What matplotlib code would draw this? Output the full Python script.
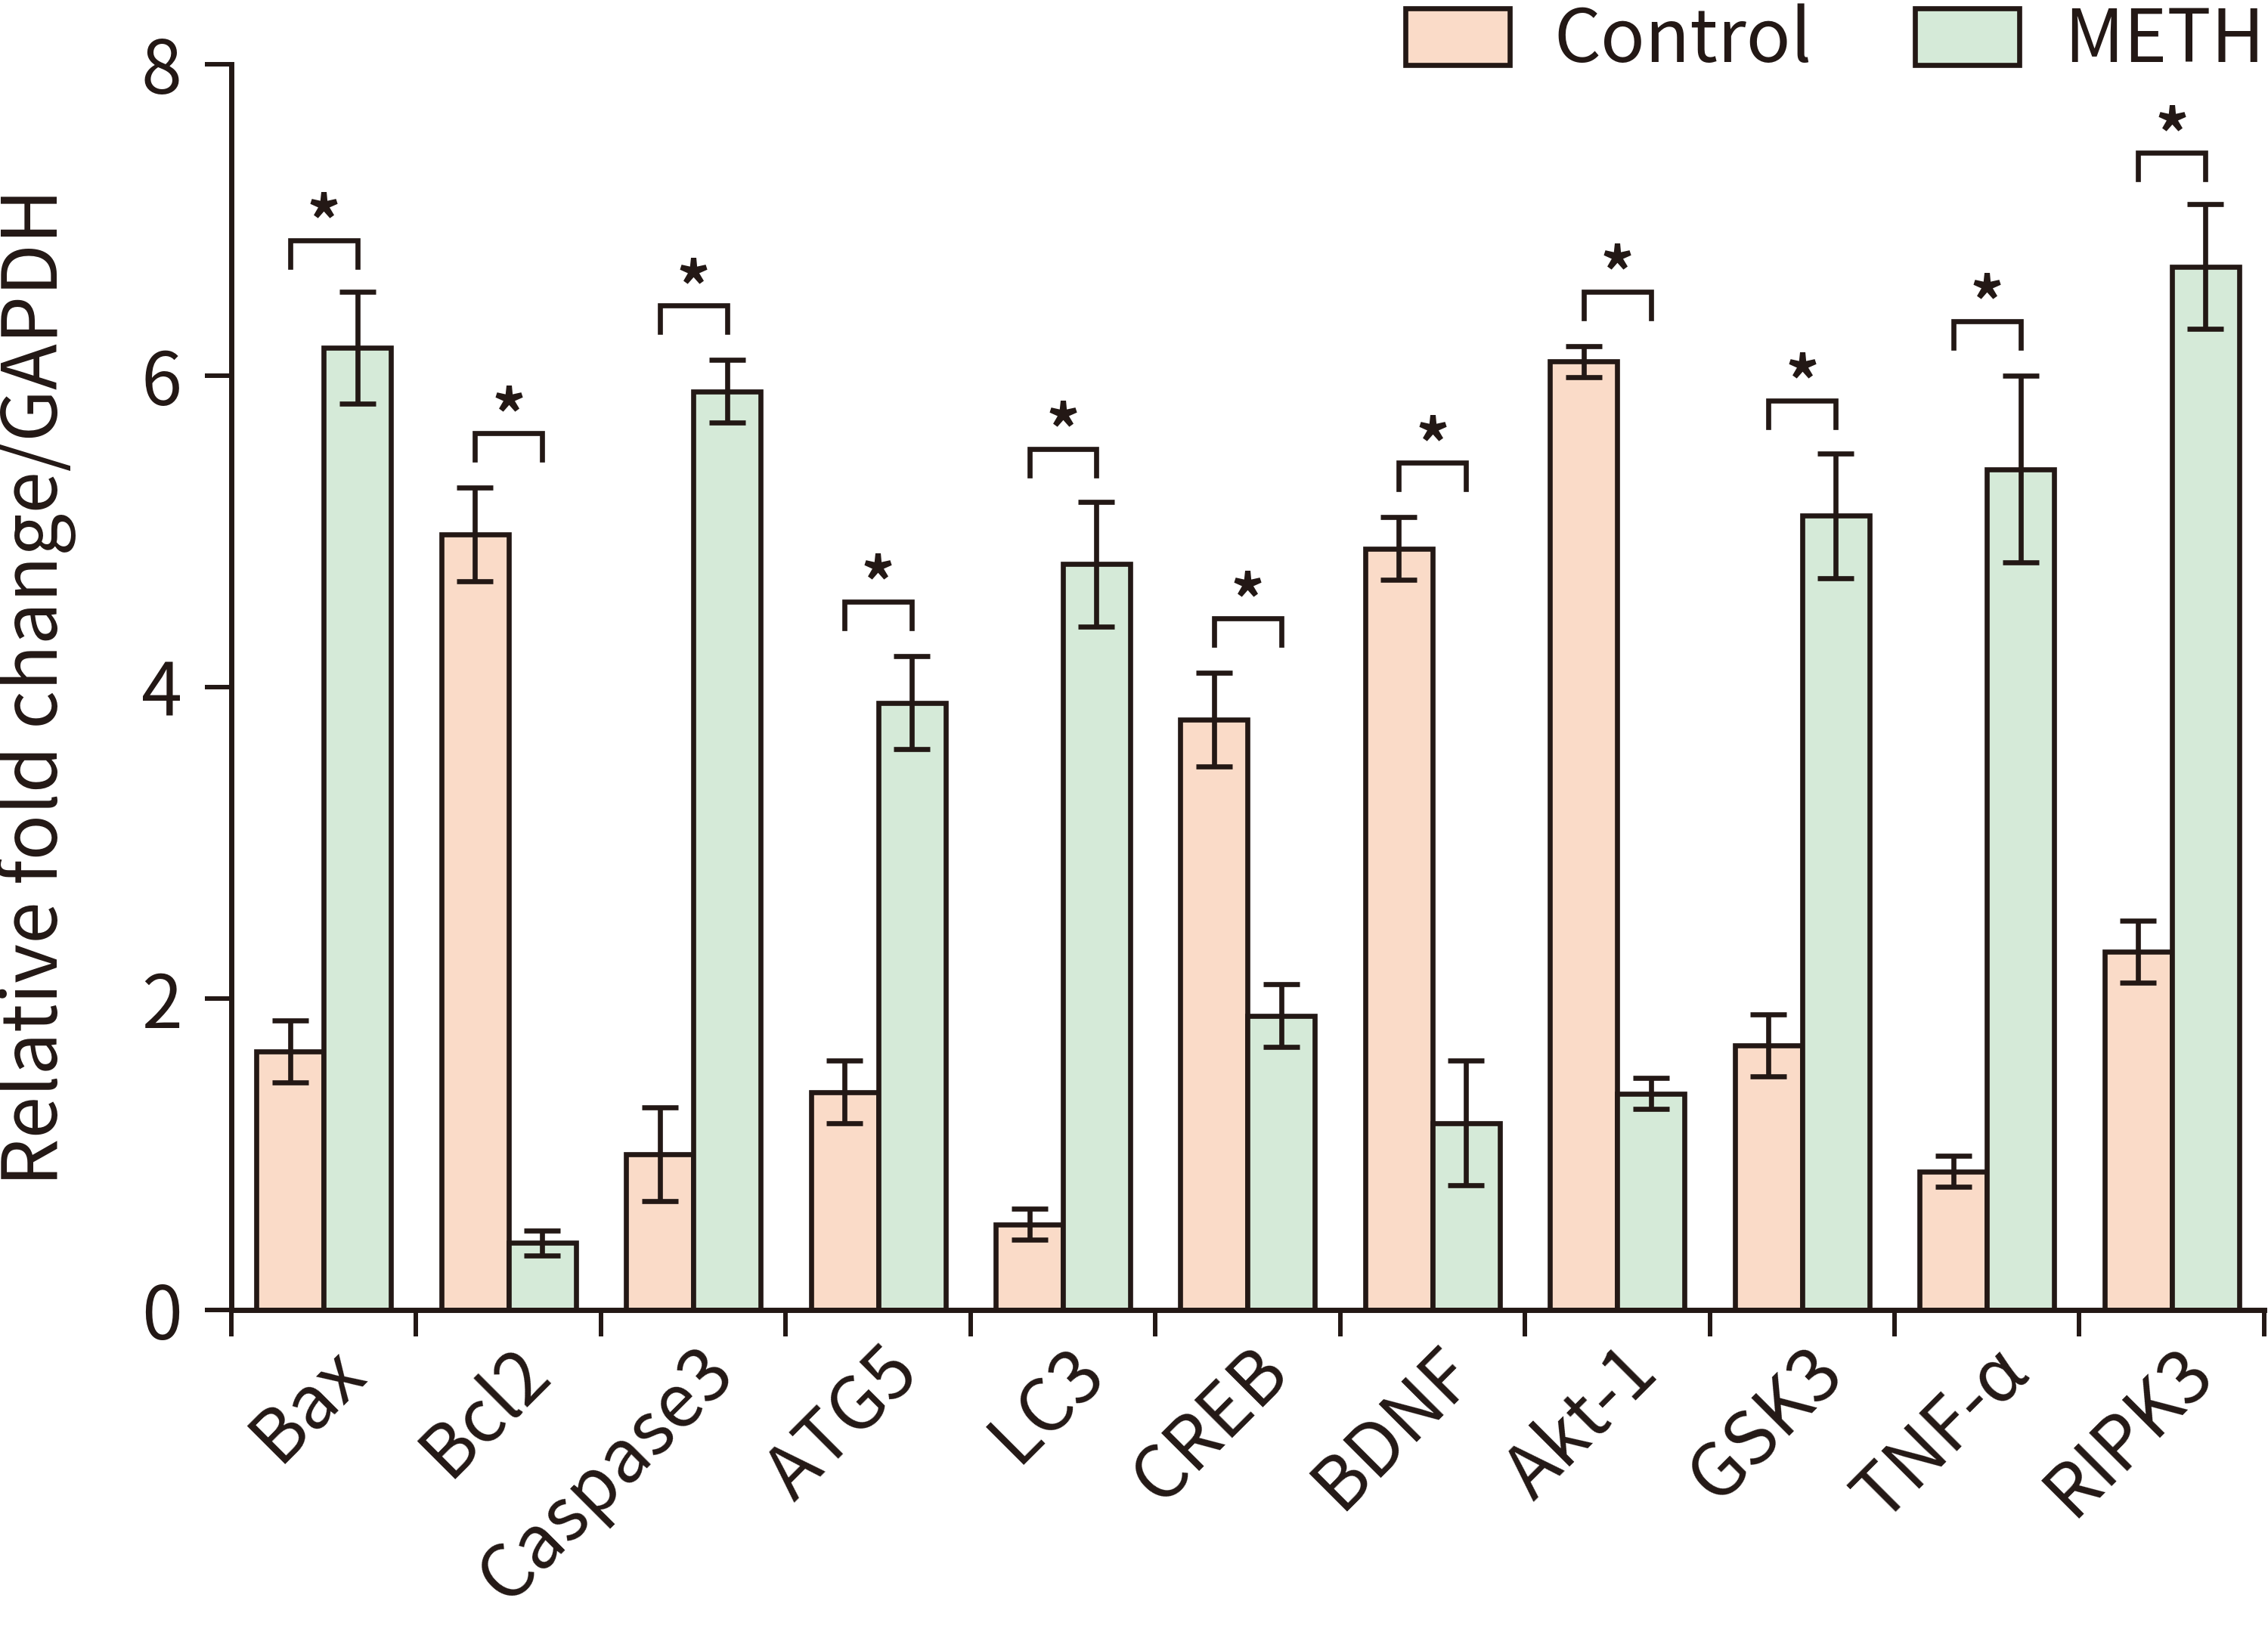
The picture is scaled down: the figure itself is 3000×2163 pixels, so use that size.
import numpy as np
import matplotlib.pyplot as plt
import matplotlib.transforms as mtransforms
from matplotlib.patches import Patch

plt.rcParams['font.family'] = ['Noto Sans CJK JP', 'DejaVu Sans']

# data
genes = ['Bax', 'Bcl2', 'Caspase3', 'ATG5', 'LC3', 'CREB', 'BDNF', 'Akt-1', 'GSK3', 'TNF-α', 'RIPK3']
control = [1.66, 4.98, 1.00, 1.40, 0.55, 3.79, 4.89, 6.09, 1.70, 0.89, 2.30]
control_err = [0.20, 0.30, 0.30, 0.20, 0.10, 0.30, 0.20, 0.10, 0.20, 0.10, 0.20]
meth = [6.18, 0.43, 5.90, 3.90, 4.79, 1.89, 1.20, 1.39, 5.10, 5.40, 6.70]
meth_err = [0.36, 0.08, 0.20, 0.30, 0.40, 0.20, 0.40, 0.10, 0.40, 0.60, 0.40]
bracket_y = [6.87, 5.63, 6.45, 4.55, 5.53, 4.44, 5.44, 6.54, 5.84, 6.35, 7.43]

c_ctrl = '#FADBC8'
c_meth = '#D5EAD8'
ink = '#231815'

fig = plt.figure(figsize=(30, 21.63), dpi=100)
ax = fig.add_axes([0.102, 0.1988, 0.8963, 0.7619])

n = len(genes)
centers = np.arange(n) + 0.5
w = 0.364
lw = 4.8

ax.bar(centers - w / 2, control, w, color=c_ctrl, edgecolor=ink, linewidth=lw, zorder=2)
ax.bar(centers + w / 2, meth, w, color=c_meth, edgecolor=ink, linewidth=lw, zorder=2)
ax.errorbar(centers - w / 2, control, yerr=control_err, fmt='none', ecolor=ink,
            elinewidth=lw, capsize=17, capthick=lw, zorder=3)
ax.errorbar(centers + w / 2, meth, yerr=meth_err, fmt='none', ecolor=ink,
            elinewidth=lw, capsize=17, capthick=lw, zorder=3)

# significance brackets
leg = 0.17
for xc, b in zip(centers, bracket_y):
    x1, x2 = xc - w / 2, xc + w / 2
    ax.plot([x1, x1, x2, x2], [b - leg, b, b, b - leg], color=ink, lw=lw,
            solid_joinstyle='miter', zorder=3)
    ax.text(xc, b - 0.13, '*', ha='center', va='bottom', fontsize=64,
            fontweight='bold', color=ink)

ax.set_xlim(0, n)
ax.set_ylim(0, 8)
ax.set_yticks([0, 2, 4, 6, 8])
ax.set_xticks(np.arange(n + 1))
ax.set_xticklabels([])
ax.set_xticks(centers, minor=True)
ax.set_xticklabels(genes, minor=True, rotation=45, ha='right', va='center',
                   rotation_mode='anchor', fontsize=70, color=ink)
ax.tick_params(axis='x', which='minor', length=0, pad=48)
ax.tick_params(axis='both', which='major', direction='out', length=25, width=4.3,
               color=ink, labelsize=70, labelcolor=ink)
ax.tick_params(axis='y', pad=22)
shift = mtransforms.ScaledTranslation(0.38, 0, fig.dpi_scale_trans)
for lab in ax.get_xticklabels(minor=True):
    lab.set_transform(lab.get_transform() + shift)

for s in ['top', 'right']:
    ax.spines[s].set_visible(False)
for s in ['left', 'bottom']:
    ax.spines[s].set_linewidth(5)
    ax.spines[s].set_color(ink)

ax.set_ylabel('Relative fold change/GAPDH', fontsize=72, color=ink,
              rotation_mode='anchor', ha='center', va='baseline')
ax.yaxis.set_label_coords(-0.0855, 0.5)

handles = [Patch(facecolor=c_ctrl, edgecolor=ink, linewidth=lw),
           Patch(facecolor=c_meth, edgecolor=ink, linewidth=lw)]
fig.legend(handles, ['Control', 'METH'], loc='upper right', bbox_to_anchor=(1.0, 1.0),
           ncol=2, frameon=False, fontsize=70, handlelength=1.42, handleheight=0.82,
           handletextpad=0.6, columnspacing=1.4, borderpad=0, borderaxespad=0.05,
           labelcolor=ink)

fig.savefig('out.png', dpi=100)
